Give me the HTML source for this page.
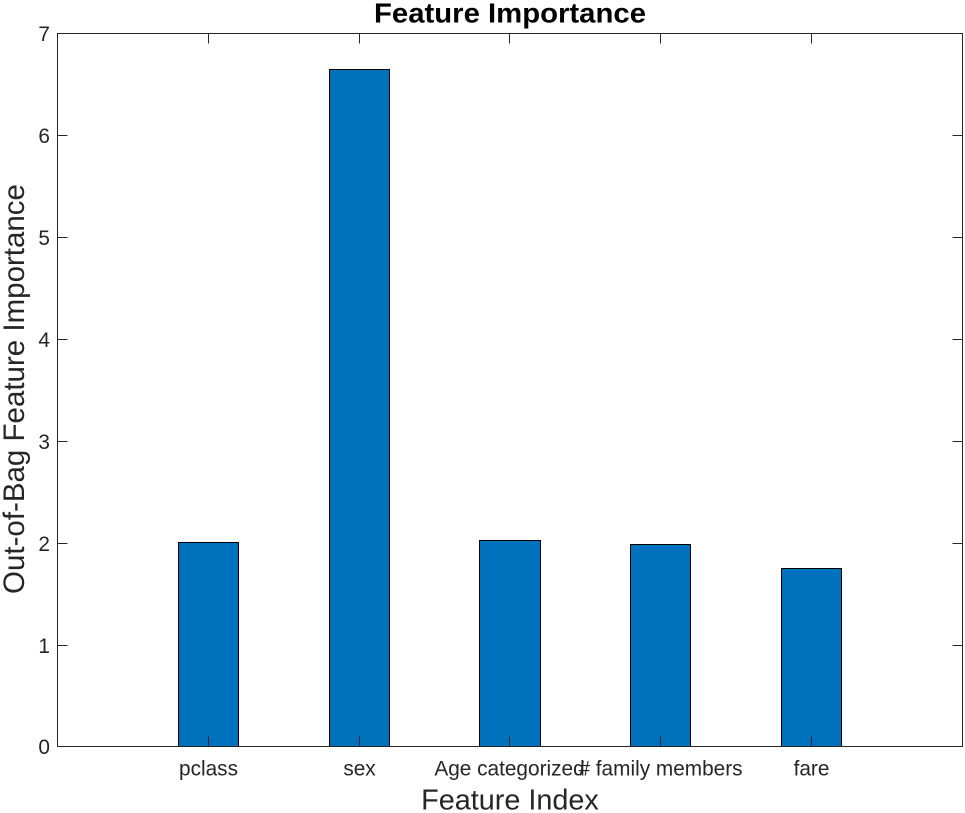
<!DOCTYPE html>
<html>
<head>
<meta charset="utf-8">
<title>Feature Importance</title>
<style>
html,body{margin:0;padding:0;background:#fff;width:965px;height:813px;overflow:hidden}
svg{display:block}
text{font-family:"Liberation Sans",Arial,sans-serif;fill:#262626}
</style>
</head>
<body>
<svg id="chart" xmlns="http://www.w3.org/2000/svg" width="965" height="813" viewBox="0 0 965 813">
  <rect x="0" y="0" width="965" height="813" fill="#fff"/>
  <g id="bars"></g>
  <g id="axes"></g>
  <text x="510" y="22.5" text-anchor="middle" font-size="27.5" font-weight="bold" textLength="272" lengthAdjust="spacingAndGlyphs" style="fill:#000">Feature Importance</text>
  <text x="510" y="809.5" text-anchor="middle" font-size="28.8">Feature Index</text>
  <text transform="translate(24,389) rotate(-90)" text-anchor="middle" font-size="29.5">Out-of-Bag Feature Importance</text>
</svg>
<script>
const categories = ['pclass', 'sex', 'Age categorized', '# family members', 'fare'];
const importance = [2.01, 6.65, 2.03, 1.99, 1.75];
const yTicks = [0, 1, 2, 3, 4, 5, 6, 7];

const NS = 'http://www.w3.org/2000/svg';
const plot = { left: 57.5, right: 962.5, top: 33.5, bottom: 746.5 };
const xMin = 0, xMax = categories.length + 1, yMin = 0, yMax = 7;
const barWidth = 0.4;
const tickLen = 10;
const axisColor = '#262626';

function xScale(v) {
  return plot.left + (v - xMin) / (xMax - xMin) * (plot.right - plot.left);
}
function yScale(v) {
  return plot.bottom - (v - yMin) / (yMax - yMin) * (plot.bottom - plot.top);
}
function snapY(v) {
  return Math.round(yScale(v) - 0.01) + 0.5;
}
function make(tag, attrs, parent) {
  const el = document.createElementNS(NS, tag);
  for (const k in attrs) el.setAttribute(k, attrs[k]);
  parent.appendChild(el);
  return el;
}

const barsG = document.getElementById('bars');
const axesG = document.getElementById('axes');

importance.forEach(function (v, i) {
  const x0 = Math.floor(xScale(i + 1 - barWidth / 2) + 0.001) + 0.5;
  const x1 = Math.floor(xScale(i + 1 + barWidth / 2) - 0.01) + 0.5;
  const top = snapY(v);
  const bar = make('rect', {
    x: x0,
    y: top,
    width: x1 - x0,
    height: snapY(0) - top,
    fill: '#0072BD',
    stroke: '#000',
    'stroke-width': 1
  }, barsG);
  
  
});

const frame = make('rect', {
  x: plot.left,
  y: plot.top,
  width: plot.right - plot.left,
  height: plot.bottom - plot.top,
  fill: 'none',
  stroke: axisColor,
  'stroke-width': 1
}, axesG);



function tickLine(x1, y1, x2, y2, name) {
  const t = make('line', { x1: x1, y1: y1, x2: x2, y2: y2, stroke: axisColor, 'stroke-width': 1 }, axesG);
  
  
}

yTicks.forEach(function (v) {
  const y = snapY(v);
  if (v !== yMin && v !== yMax) {
    tickLine(plot.left, y, plot.left + tickLen, y, 'y-tick-left');
    tickLine(plot.right, y, plot.right - tickLen, y, 'y-tick-right');
  }
  const label = make('text', {
    x: plot.left - 7.5,
    y: y + 7.5,
    'text-anchor': 'end',
    'font-size': 20.8
  }, axesG);
  label.textContent = String(v);
  
  
});

categories.forEach(function (c, i) {
  const x = Math.floor(xScale(i + 1) - 0.01) + 0.5;
  tickLine(x, plot.bottom, x, plot.bottom - tickLen, 'x-tick-bottom');
  tickLine(x, plot.top, x, plot.top + tickLen, 'x-tick-top');
  const label = make('text', {
    x: x,
    y: 775.5,
    'text-anchor': 'middle',
    'font-size': 20.8
  }, axesG);
  label.textContent = c;
  
  
});
</script>
</body>
</html>
